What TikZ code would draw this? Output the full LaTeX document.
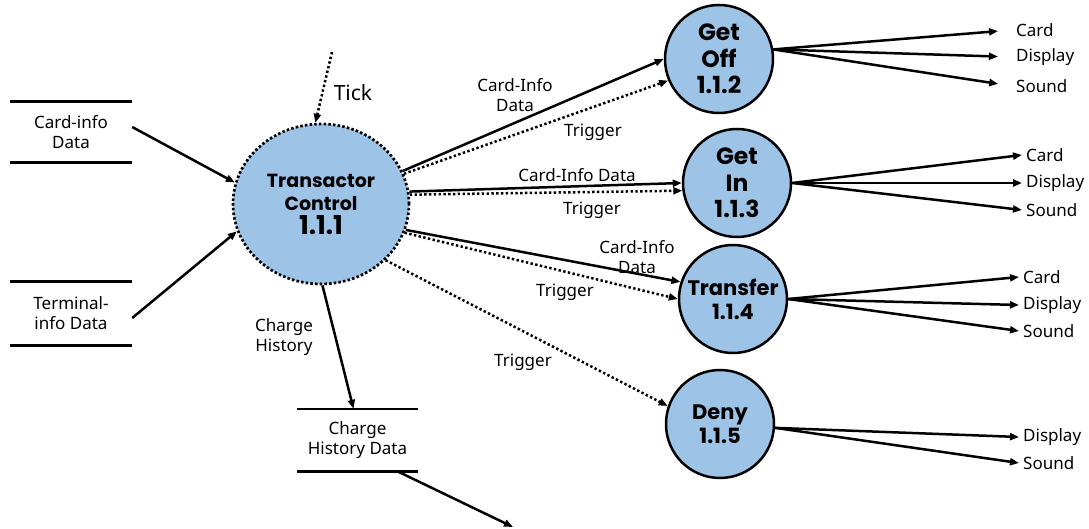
\documentclass[tikz,border=0pt]{standalone}
\usepackage{fontspec}
\setmainfont{Noto Sans}
\newfontfamily\procfont{Poppins}
\usetikzlibrary{arrows.meta,shapes.geometric}

\definecolor{procblue}{RGB}{157,195,230}

\tikzset{
  proc/.style={circle, draw, line width=2.5pt, fill=procblue, minimum size=108pt,
    inner sep=0pt, align=center, font=\procfont\bfseries\fontsize{21}{24}\selectfont},
  bigproc/.style={proc, font=\procfont\bfseries\fontsize{23.5}{26.5}\selectfont},
  ctrlproc/.style={ellipse, draw, line width=2.7pt, dash pattern=on 2.5pt off 2.2pt,
    fill=procblue, minimum width=176pt, minimum height=160pt, inner sep=0pt,
    align=center, font=\procfont\bfseries\fontsize{19}{23.5}\selectfont},
  store/.style={minimum width=122pt, minimum height=61pt, inner sep=0pt, align=center},
  storeline/.style={line width=2.6pt},
  flow/.style={->, line width=2.5pt},
  trig/.style={->, line width=2.5pt, dash pattern=on 2.4pt off 2.4pt},
  lbl/.style={align=center, inner sep=0pt},
  outlbl/.style={anchor=west, inner sep=4pt},
}

\begin{document}
\begin{tikzpicture}[x=1pt, y=-1pt, font=\fontsize{17}{20}\selectfont,
    >={Triangle[length=9pt,width=7pt]}]
    \useasboundingbox (0,0) rectangle (1089,529);
    % Processes
    \node[ctrlproc] (ctrl) at (321,204) {Transactor\\Control\\{\fontsize{26}{26}\selectfont 1.1.1}};
    \node[bigproc] (getoff) at (719,59) {Get\\Off\\1.1.2};
    \node[bigproc] (getin) at (737,183) {Get\\In\\1.1.3};
    \node[proc] (transfer) at (733,299) {Transfer\\1.1.4};
    \node[proc] (deny) at (720,424) {Deny\\1.1.5};

    % Data stores
    \node[store] (cardstore) at (71,132) {Card-info\\Data};
    \node[store, minimum height=63pt] (termstore) at (71,313.5) {Terminal-\\info Data};
    \node[store, minimum width=121pt, minimum height=62pt] (histstore) at (357.5,440) {Charge\\History Data};
    \foreach \s in {cardstore,termstore,histstore}
      \draw[storeline] (\s.north west) -- (\s.north east) (\s.south west) -- (\s.south east);

    % Inputs to the controller
    \draw[flow] ([yshift=5pt]cardstore.east) -- (ctrl.166);
    \draw[flow] ([yshift=-4.5pt]termstore.east) -- (ctrl.198);
    \coordinate (tickin) at (332,52);
    \draw[trig] (tickin) -- (ctrl.94);
    \node[lbl, font=\fontsize{21}{24}\selectfont] (ticklbl) at (353,93) {Tick};

    % Charge history
    \draw[flow] (ctrl.-89) -- ([xshift=-4pt]histstore.north);
    \node[lbl] (chlbl) at (284,337) {Charge\\History};
    \coordinate (histout) at (513,527);
    \draw[flow] ([xshift=-21pt]histstore.south east) -- (histout);

    % Get Off
    \draw[flow] (ctrl.22) -- (getoff.180);
    \draw[trig] (ctrl.20) -- (getoff.203);
    \node[lbl] (offin) at (515,95) {Card-Info\\Data};
    \node[lbl] (offtrig) at (593,132) {Trigger};

    % Get In
    \draw[flow] (ctrl.8) -- (getin.180);
    \draw[trig] (ctrl.6) -- (getin.188);
    \node[lbl] (inin) at (577,175) {Card-Info Data};
    \node[lbl] (intrig) at (592,210) {Trigger};

    % Transfer
    \draw[flow] (ctrl.-17) -- (transfer.162);
    \draw[trig] (ctrl.-19) -- (transfer.180);
    \node[lbl] (trin) at (637,257) {Card-Info\\Data};
    \node[lbl] (trtrig) at (565,292) {Trigger};

    % Deny
    \draw[trig] (ctrl.-41) -- (deny.161);
    \node[lbl] (dntrig) at (523,362) {Trigger};

    % Outputs
    \foreach \n/\t/\y in {card/Card/30, disp/Display/57, snd/Sound/86} {
      \node[outlbl] (off\n) at (1012,\y) {\t};
      \draw[flow, shorten >=14pt] (getoff.10) -- (off\n.west);
    }
    \foreach \n/\t/\y in {card/Card/155, disp/Display/183, snd/Sound/210} {
      \node[outlbl] (in\n) at (1022,\y) {\t};
      \draw[flow] (getin.east) -- (in\n.west);
    }
    \foreach \n/\t/\y in {card/Card/277, disp/Display/305, snd/Sound/331} {
      \node[outlbl] (tr\n) at (1019,\y) {\t};
      \draw[flow] (transfer.east) -- (tr\n.west);
    }
    \foreach \n/\t/\y in {disp/Display/437, snd/Sound/463} {
      \node[outlbl] (dn\n) at (1019,\y) {\t};
      \draw[flow] (deny.-4) -- (dn\n.west);
    }
  \end{tikzpicture}
\end{document}
